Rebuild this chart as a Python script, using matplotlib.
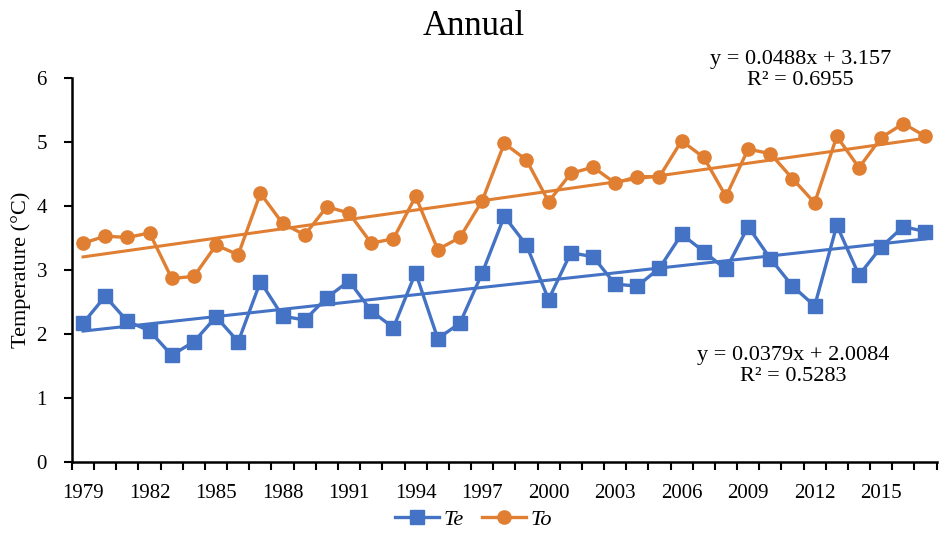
import numpy as np
import matplotlib
matplotlib.use('Agg')
import matplotlib.pyplot as plt

# ── Data ──────────────────────────────────────────────────────────────────────

years = list(range(1979, 2018))

te = [2.17, 2.59, 2.20, 2.05, 1.67, 1.88, 2.27, 1.88, 2.82, 2.28,
      2.22, 2.57, 2.83, 2.36, 2.10, 2.96, 1.93, 2.17, 2.95, 3.84,
      3.39, 2.54, 3.27, 3.21, 2.78, 2.75, 3.03, 3.56, 3.29, 3.01,
      3.68, 3.18, 2.75, 2.44, 3.70, 2.92, 3.36, 3.68, 3.60]

to = [3.42, 3.53, 3.51, 3.58, 2.87, 2.90, 3.39, 3.24, 4.20, 3.73,
      3.55, 3.99, 3.89, 3.42, 3.49, 4.15, 3.32, 3.51, 4.08, 4.98,
      4.72, 4.07, 4.51, 4.61, 4.36, 4.46, 4.46, 5.02, 4.76, 4.15,
      4.89, 4.82, 4.43, 4.05, 5.09, 4.60, 5.07, 5.29, 5.09]

# trend coefficients as printed on the chart (x = 1..n)
te_fit = (0.0379, 2.0084, 0.5283)
to_fit = (0.0488, 3.157, 0.6955)

BLUE = '#4472C4'
ORANGE = '#E07E32'

plt.rcParams['font.family'] = ['Liberation Serif', 'DejaVu Serif']

fig = plt.figure(figsize=(9.47, 5.54), dpi=100)
ax = fig.add_axes([0.076, 0.166, 0.913, 0.693])

x = np.arange(len(years))
xn = x + 1

ax.plot(x, te, color=BLUE, linewidth=2.4, marker='s', markersize=9.5,
        label='Te', zorder=3)
ax.plot(x, to, color=ORANGE, linewidth=2.4, marker='o', markersize=9.5,
        label='To', zorder=3)

# linear trend lines
ax.plot(x, te_fit[0] * xn + te_fit[1], color=BLUE, linewidth=2.2, zorder=2)
ax.plot(x, to_fit[0] * xn + to_fit[1], color=ORANGE, linewidth=2.2, zorder=2)

fig.text(0.845, 0.873, f'y = {to_fit[0]}x + {to_fit[1]}\nR² = {to_fit[2]}',
         ha='center', va='center', fontsize=16, linespacing=1.15)
fig.text(0.838, 0.340, f'y = {te_fit[0]}x + {te_fit[1]}\nR² = {te_fit[2]}',
         ha='center', va='center', fontsize=16, linespacing=1.15)

ax.set_xlim(-0.5, len(years) - 0.5)
ax.set_ylim(0, 6)
ax.set_yticks(range(0, 7))
ax.set_xticks(x[::3])
ax.set_xticklabels([str(y) for y in years[::3]])
ax.set_xticks(np.arange(-0.5, len(years)), minor=True)
ax.tick_params(axis='x', which='major', length=0, pad=16, labelsize=15)
ax.tick_params(axis='x', which='minor', length=6, width=1.5, direction='out')
ax.tick_params(axis='y', length=6, width=1.5, direction='out', labelsize=15,
               pad=12)

for s in ['top', 'right']:
    ax.spines[s].set_visible(False)
for s in ['left', 'bottom']:
    ax.spines[s].set_linewidth(1.8)

ax.set_ylabel('Temperature (°C)', fontsize=16, labelpad=4)
fig.text(0.5, 0.953, 'Annual', ha='center', va='center', fontsize=25)

leg = fig.legend(loc='center', bbox_to_anchor=(0.5, 0.062), ncol=2,
                 frameon=False, prop={'style': 'italic', 'size': 16},
                 handlelength=2.0, columnspacing=0.8, handletextpad=0.2,
                 borderpad=0.1)

fig.savefig('out.png', dpi=100)
